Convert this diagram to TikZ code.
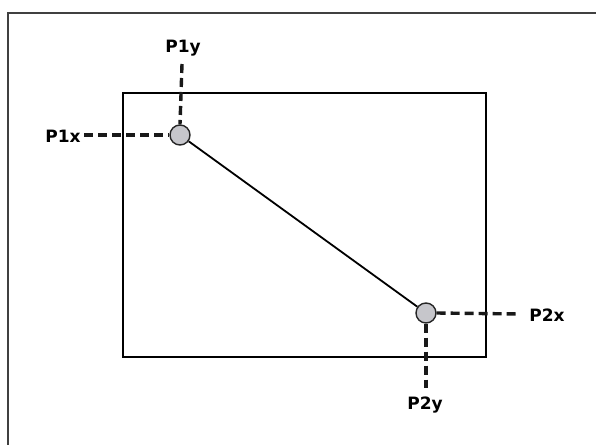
\documentclass[tikz,border=0pt]{standalone}
\usepackage{fontspec}
\setmainfont{DejaVu Sans}
\begin{document}
\begin{tikzpicture}[x=1pt,y=-1pt,
  frame/.style={draw=black!75,line width=2pt},
  box/.style={draw=black,line width=2pt},
  pt/.style={circle,draw=black!85,fill=black!10!blue!3!white!80!black,line width=1.4pt,minimum size=20pt,inner sep=0pt},
  guide/.style={draw=black!90,line width=3.4pt,dash pattern=on 9pt off 5pt},
  lbl/.style={font=\bfseries\fontsize{17}{19}\selectfont,inner sep=0pt}]
\useasboundingbox (0,0) rectangle (596,444);
\path[frame] (8,460) -- (8,13) -- (610,13);
\draw[box] (123,93) rectangle (486,357);
\node[pt] (p1) at (180,135) {};
\node[pt] (p2) at (426,313) {};
\draw[line width=1.8pt] (p1) -- (p2);
\node[lbl] (p1y) at (183,48) {P1y};
\node[lbl] (p1x) at (63,136) {P1x};
\node[lbl] (p2x) at (547,315) {P2x};
\node[lbl] (p2y) at (425,405) {P2y};
\coordinate (a1) at (182,64);
\coordinate (a2) at (84,135);
\coordinate (a3) at (520,314);
\coordinate (a4) at (426,388);
\draw[guide] (a1) -- (p1.north);
\draw[guide] (a2) -- (p1.west);
\draw[guide] (p2.east) -- (a3);
\draw[guide] (p2.south) -- (a4);
\end{tikzpicture}
\end{document}
